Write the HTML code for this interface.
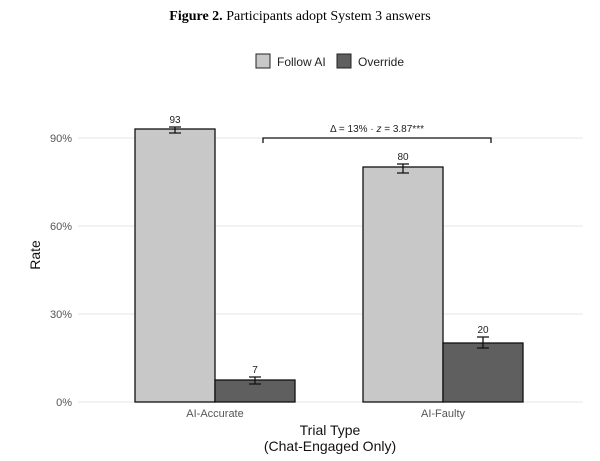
<!DOCTYPE html>
<html><head><style>body{margin:0;background:#fff}svg{display:block}</style></head><body>
<svg width="600" height="461" xmlns="http://www.w3.org/2000/svg" font-family="Liberation Sans, sans-serif">
<text x="300" y="20" text-anchor="middle" font-family="Liberation Serif, serif" font-size="14"><tspan font-weight="bold">Figure 2.</tspan> Participants adopt System 3 answers</text>
<rect x="256" y="54" width="14" height="14" fill="#c8c8c8" stroke="#222" stroke-width="1"/>
<text x="277" y="66" font-size="12" fill="#222">Follow AI</text>
<rect x="337" y="54" width="14" height="14" fill="#5f5f5f" stroke="#222" stroke-width="1"/>
<text x="358" y="66" font-size="12" fill="#222">Override</text>
<g stroke="#e6e6e6" stroke-width="1">
<line x1="78" x2="583" y1="402" y2="402"/><line x1="78" x2="583" y1="314" y2="314"/>
<line x1="78" x2="583" y1="226" y2="226"/><line x1="78" x2="583" y1="138" y2="138"/>
</g>
<g font-size="11" fill="#555" text-anchor="end">
<text x="72" y="406">0%</text><text x="72" y="318">30%</text><text x="72" y="230">60%</text><text x="72" y="142">90%</text>
</g>
<g stroke="#111" stroke-width="1.3">
<rect x="135" y="129" width="80" height="273" fill="#c8c8c8"/>
<rect x="215" y="380" width="80" height="22" fill="#5f5f5f"/>
<rect x="363" y="167" width="80" height="235" fill="#c8c8c8"/>
<rect x="443" y="343" width="80" height="59" fill="#5f5f5f"/>
</g>
<g stroke="#111" stroke-width="1.3" fill="none">
<path d="M169 127H181M169 133H181M175 127V133"/>
<path d="M249 377H261M249 384H261M255 377V384"/>
<path d="M397 164H409M397 173H409M403 164V173"/>
<path d="M477 337H489M477 348H489M483 337V348"/>
<path d="M263 143V138H491V143"/>
</g>
<g font-size="10" fill="#222" text-anchor="middle">
<text x="175" y="123">93</text><text x="255" y="373">7</text>
<text x="403" y="160">80</text><text x="483" y="333">20</text>
<text x="377" y="132">Δ = 13% · <tspan font-style="italic">z</tspan> = 3.87***</text>
</g>
<g font-size="11" fill="#555" text-anchor="middle">
<text x="215" y="417">AI-Accurate</text><text x="443" y="417">AI-Faulty</text>
</g>
<g font-size="14" fill="#111" text-anchor="middle">
<text x="330" y="435">Trial Type</text><text x="330" y="451">(Chat-Engaged Only)</text>
<text transform="translate(40,255) rotate(-90)">Rate</text>
</g>
</svg>
</body></html>
